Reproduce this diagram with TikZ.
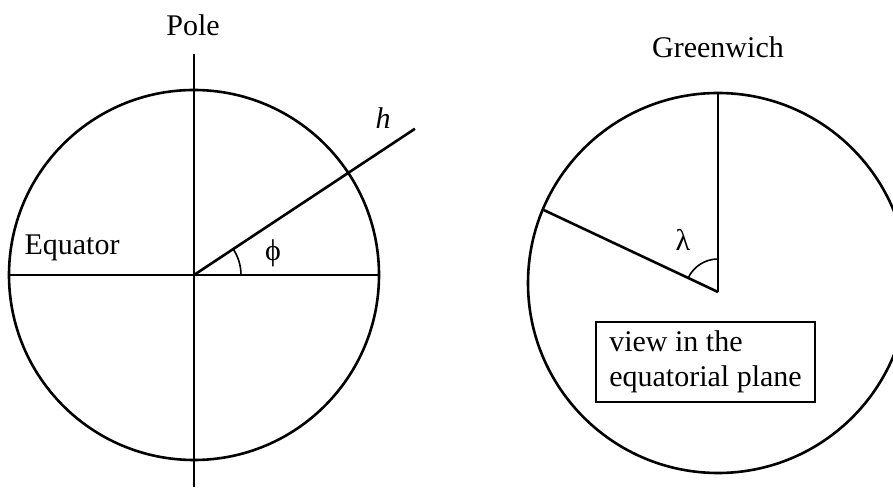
\documentclass[tikz,border=0pt]{standalone}
\usepackage{fontspec}
\setmainfont{Liberation Serif}

\begin{document}
\begin{tikzpicture}[x=0.5pt, y=0.5pt, line width=1.3pt, font=\fontsize{15}{17.5}\selectfont]
        % Frame of the picture
        \useasboundingbox (0,0) rectangle (893,487);
        \clip (0,0) rectangle (893,487);

        % Meridian section: circle, axis and equator
        \coordinate (O) at (194,212);
        \coordinate (poleTop) at (194,433);
        \coordinate (poleBot) at (194,0);
        \draw (O) circle (185);
        \draw (poleTop)--(poleBot);
        \draw (O) ++(-185,0) coordinate (eqW) -- ++(370,0) coordinate (eqE);
        \draw (O)--++(33.5:265) coordinate (hEnd);

        %Latitude angle
        \draw[line width=0.8pt] (O) ++(47,0) arc[start angle=0, end angle=33.5, radius=47];

        \node (pole) at (193,462) {Pole};
        \node (equator) at (72,239) {Equator};
        \node (h) at (383,369) {\textit{h}};
        \node (phi) at (273,234) {ϕ};

        % Equatorial plane: circle, Greenwich and the meridian of the point
        \coordinate (C) at (718,204);
        \coordinate (A) at (718,195);
        \coordinate (gw) at (718,394);
        \draw (C) circle (190);
        \draw (A)--(gw);
        \draw (A)--++(154.8:192.4) coordinate (merid);

        %Longitude angle
        \draw[line width=0.8pt] (A) ++(0,33) arc[start angle=90, end angle=154.8, radius=33];

        \node (greenwich) at (718,440) {Greenwich};
        \node (lambda) at (683,247) {λ};
        \node[draw, line width=0.9pt, align=left, minimum width=109.5pt, minimum height=40pt, inner xsep=6.5pt] (view) at (705.5,125) {view in the\\equatorial plane};
\end{tikzpicture}
\end{document}
